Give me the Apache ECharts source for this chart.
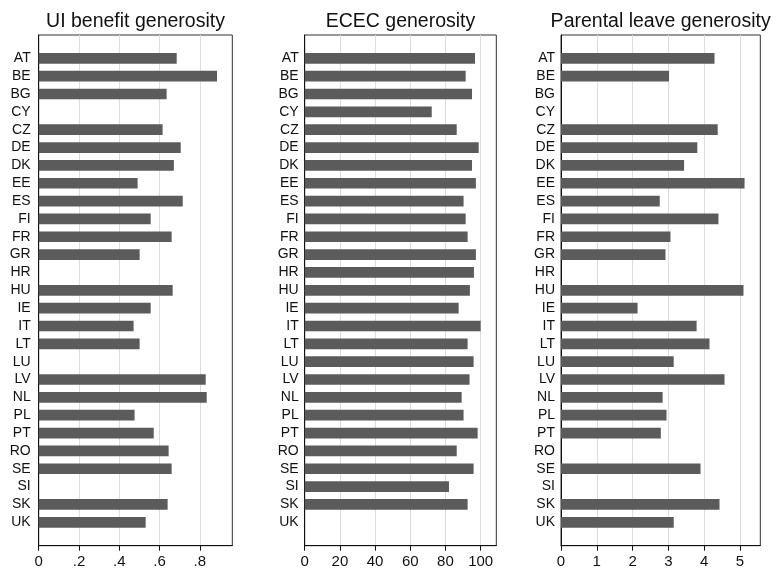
<!DOCTYPE html>
<html>
<head>
<meta charset="utf-8">
<script src="https://cdn.jsdelivr.net/npm/echarts@6/dist/echarts.min.js"></script>
<style>
  html, body { margin: 0; padding: 0; background: #fff; }
  #chart { width: 778px; height: 571px; }
</style>
</head>
<body>
<div id="chart"></div>
<script>
// Country codes, top to bottom
const countries = ['AT','BE','BG','CY','CZ','DE','DK','EE','ES','FI','FR','GR','HR','HU',
                   'IE','IT','LT','LU','LV','NL','PL','PT','RO','SE','SI','SK','UK'];

// Unemployment insurance benefit generosity (null = no data)
const uiValues = [0.685, 0.885, 0.635, null, 0.615, 0.705, 0.671, 0.491, 0.715, 0.556, 0.660, 0.501, null, 0.665,
                  0.556, 0.471, 0.501, null, 0.829, 0.834, 0.476, 0.571, 0.645, 0.660, null, 0.640, 0.531];

// Early childhood education and care generosity
const ececValues = [96.8, 91.5, 95.1, 72.2, 86.4, 98.9, 95.1, 97.3, 90.3, 91.5, 92.6, 97.3, 96.2, 93.9,
                    87.5, 100.0, 92.6, 96.0, 93.7, 89.2, 90.3, 98.3, 86.4, 96.0, 82.0, 92.6, null];

// Parental leave generosity
const leaveValues = [4.29, 3.02, null, null, 4.38, 3.81, 3.44, 5.13, 2.76, 4.40, 3.06, 2.92, null, 5.10,
                     2.14, 3.79, 4.15, 3.15, 4.57, 2.84, 2.95, 2.79, null, 3.90, null, 4.43, 3.15];

const titles = ['UI benefit generosity', 'ECEC generosity', 'Parental leave generosity'];

// X-axis tick values and their labels per panel
const uiTicks = [0, 0.2, 0.4, 0.6, 0.8];
const uiTickLabels = ['0', '.2', '.4', '.6', '.8'];
const ececTicks = [0, 20, 40, 60, 80, 100];
const ececTickLabels = ['0', '20', '40', '60', '80', '100'];
const leaveTicks = [0, 1, 2, 3, 4, 5];
const leaveTickLabels = ['0', '1', '2', '3', '4', '5'];

const FONT = '"Liberation Sans", Arial, Helvetica, sans-serif';
const BAR_COLOR = '#5b5b5b';

// Panel geometry (pixels)
const FRAME_TOP = 35, FRAME_BOTTOM = 545.7;
const BAR_TOP = 49.4, BAR_HEIGHT = 481.8;
const panels = [
  { left: 38.7,  width: 193.6, max: 0.961, interval: 0.2, ticks: uiTicks,   labels: uiTickLabels,   data: uiValues,    labelMargin: 8 },
  { left: 304.7, width: 191.6, max: 108.9, interval: 20,  ticks: ececTicks, labels: ececTickLabels, data: ececValues,  labelMargin: 6 },
  { left: 561,   width: 199.3, max: 5.57,  interval: 1,   ticks: leaveTicks,labels: leaveTickLabels,data: leaveValues, labelMargin: 6 }
];

const grid = [], xAxis = [], yAxis = [], series = [], graphic = [];

panels.forEach((p, i) => {
  const frameIdx = grid.length;
  // frame grid: box, value axis, gridlines
  grid.push({
    left: p.left, top: FRAME_TOP, width: p.width, height: FRAME_BOTTOM - FRAME_TOP,
    show: true, borderColor: '#333', borderWidth: 1, backgroundColor: 'transparent'
  });
  const lbl = {};
  p.ticks.forEach((t, k) => { lbl[t] = p.labels[k]; });
  xAxis.push({
    gridIndex: frameIdx, type: 'value', min: 0, max: p.max, interval: p.interval,
    axisLine: { show: true, lineStyle: { color: '#111', width: 1 } },
    axisTick: { show: true, length: 5, lineStyle: { color: '#111' }, customValues: p.ticks },
    axisLabel: {
      show: true, margin: 9, fontFamily: FONT, fontSize: 15, color: '#111',
      customValues: p.ticks,
      formatter: v => (lbl[v] !== undefined ? lbl[v] : '')
    },
    splitLine: { show: true, lineStyle: { color: '#dcdcdc', width: 1 } }
  });
  yAxis.push({
    gridIndex: frameIdx, type: 'value', min: 0, max: 1,
    axisLine: { show: true, lineStyle: { color: '#111', width: 1 } },
    axisTick: { show: false }, axisLabel: { show: false }, splitLine: { show: false }
  });

  // bar grid: category rows sharing the same value scale
  const barIdx = grid.length;
  grid.push({ left: p.left, top: BAR_TOP, width: p.width, height: BAR_HEIGHT });
  xAxis.push({ gridIndex: barIdx, type: 'value', min: 0, max: p.max, show: false });
  yAxis.push({
    gridIndex: barIdx, type: 'category', data: countries, inverse: true,
    axisLine: { show: false }, axisTick: { show: false },
    axisLabel: { interval: 0, margin: p.labelMargin, fontFamily: FONT, fontSize: 14, color: '#111' },
    splitLine: { show: false }
  });
  series.push({
    type: 'bar', xAxisIndex: barIdx, yAxisIndex: barIdx,
    data: p.data, barWidth: 10.7, itemStyle: { color: BAR_COLOR }, silent: true
  });

  graphic.push({
    type: 'text', x: p.left + p.width / 2, y: 21.5,
    style: { text: titles[i], fontFamily: FONT, fontSize: 19.5, fill: '#111', align: 'center', verticalAlign: 'middle' }
  });
});

const chart = echarts.init(document.getElementById('chart'), null, { renderer: 'canvas' });
chart.setOption({
  animation: false,
  backgroundColor: '#fff',
  grid, xAxis, yAxis, series, graphic
});
</script>
</body>
</html>
